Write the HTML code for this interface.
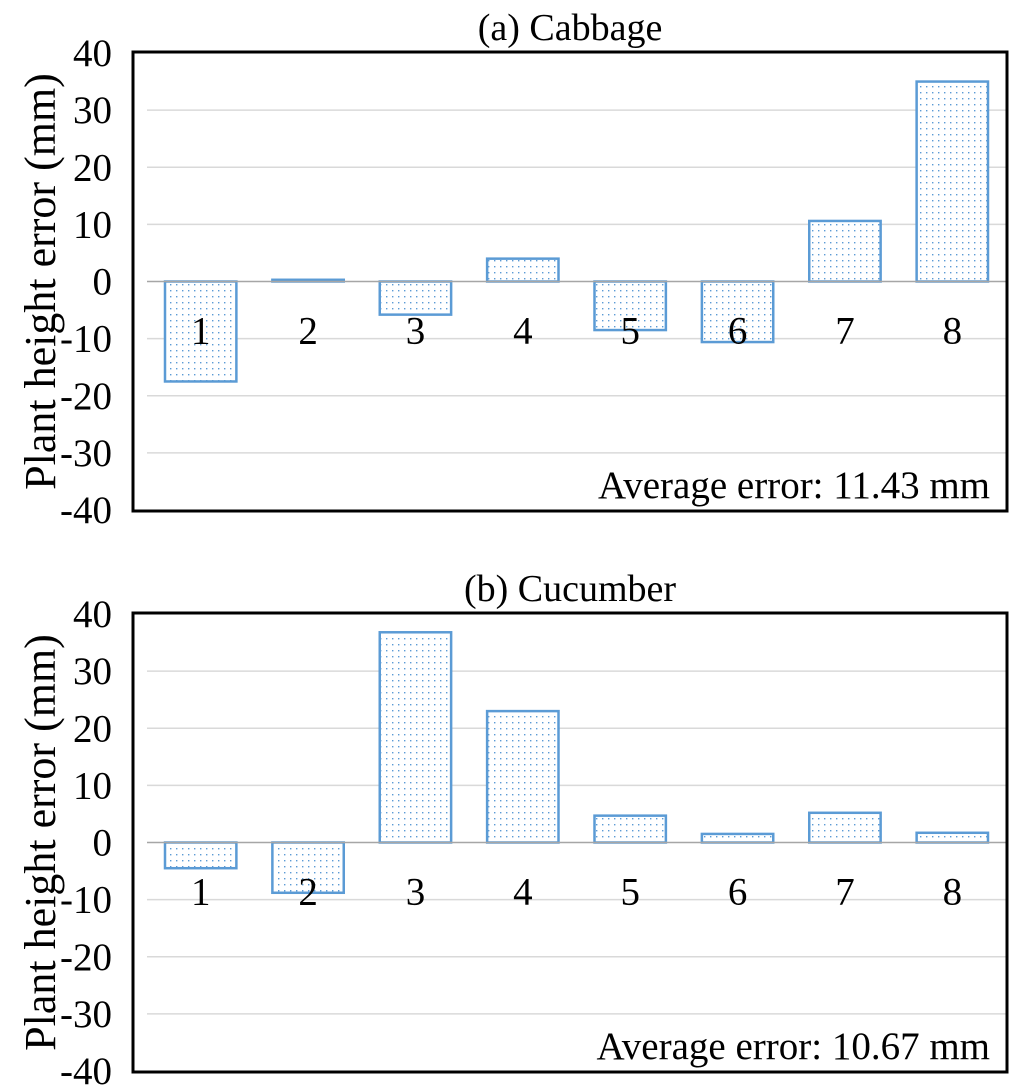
<!DOCTYPE html>
<html><head><meta charset="utf-8"><style>
html,body{margin:0;padding:0;background:#fff;}
svg{display:block;font-family:"Liberation Serif",serif;}
</style></head><body>
<svg id="chart" width="1024" height="1090" viewBox="0 0 1024 1090" xmlns="http://www.w3.org/2000/svg">
<defs>
<pattern id="dots" width="6" height="6" patternUnits="userSpaceOnUse">
<rect width="6" height="6" fill="#fff"/>
<rect x="2" y="2" width="1.4" height="1.4" fill="#5b9bd5"/>
</pattern>
</defs>
</svg>
<script>
const categories = ["1","2","3","4","5","6","7","8"];
const cabbageValues = [-17.5, 0.3, -5.8, 4, -8.5, -10.6, 10.6, 35];
const cucumberValues = [-4.5, -8.8, 36.8, 23, 4.7, 1.5, 5.2, 1.7];
const yTicks = [40, 30, 20, 10, 0, -10, -20, -30, -40];
const titles = ["(a) Cabbage", "(b) Cucumber"];
const avgLabels = ["Average error: 11.43 mm", "Average error: 10.67 mm"];
const series = [cabbageValues, cucumberValues];

const svg = document.getElementById('chart');
const NS = 'http://www.w3.org/2000/svg';
function mk(tag, attrs, parent){
  const e = document.createElementNS(NS, tag);
  for (const k in attrs) e.setAttribute(k, attrs[k]);
  (parent||svg).appendChild(e);
  return e;
}
const plotL = 147, plotR = 1006, boxL = 133;
series.forEach((vals, p) => {
  const off = p * 561;
  const top = 53 + off, bot = 510 + off;
  const y = v => top + (40 - v) / 80 * (bot - top);
  const g = mk('g', {});
  
  
  const t = mk('text', {x: 570, y: 40 + off, 'font-size': 38, 'text-anchor': 'middle'}, g);
  t.textContent = titles[p];
  
  
  yTicks.forEach(v => {
    if (v !== 40 && v !== -40 && v !== 0) {
      const gl = mk('line', {x1: plotL, x2: plotR, y1: y(v), y2: y(v), stroke: '#d9d9d9', 'stroke-width': 1.5}, g);
      
      
    }
    const tl = mk('text', {x: 112, y: y(v) + 13, 'font-size': 39, 'text-anchor': 'end'}, g);
    tl.textContent = v;
    
    
  });
  const cw = (plotR - plotL) / categories.length;
  vals.forEach((v, i) => {
    const x0 = plotL + cw * i + 18;
    const y0 = y(Math.max(v, 0)), y1 = y(Math.min(v, 0));
    const r = mk('rect', {x: x0, y: y0, width: cw - 36, height: Math.max(y1 - y0, 1), fill: 'url(#dots)', stroke: '#5b9bd5', 'stroke-width': 2.5}, g);
    
    
  });
  const zl = mk('line', {x1: plotL, x2: plotR, y1: y(0), y2: y(0), stroke: '#a6a6a6', 'stroke-width': 1.5}, g);
  
  
  categories.forEach((c, i) => {
    const ct = mk('text', {x: plotL + cw * (i + 0.5), y: y(0) + 62, 'font-size': 39, 'text-anchor': 'middle'}, g);
    ct.textContent = c;
    
    
  });
  const box = mk('rect', {x: boxL, y: top - 1, width: 1007 - boxL, height: bot - top + 2, fill: 'none', stroke: '#000', 'stroke-width': 3}, g);
  
  
  const av = mk('text', {x: 990, y: bot - 12, 'font-size': 39, 'text-anchor': 'end'}, g);
  av.textContent = avgLabels[p];
  
  
  const yt = mk('text', {x: 0, y: 0, 'font-size': 44, 'text-anchor': 'middle', transform: 'translate(55,' + ((top + bot) / 2) + ') rotate(-90)'}, g);
  yt.textContent = 'Plant height error (mm)';
  
  
});
</script>
</body></html>
